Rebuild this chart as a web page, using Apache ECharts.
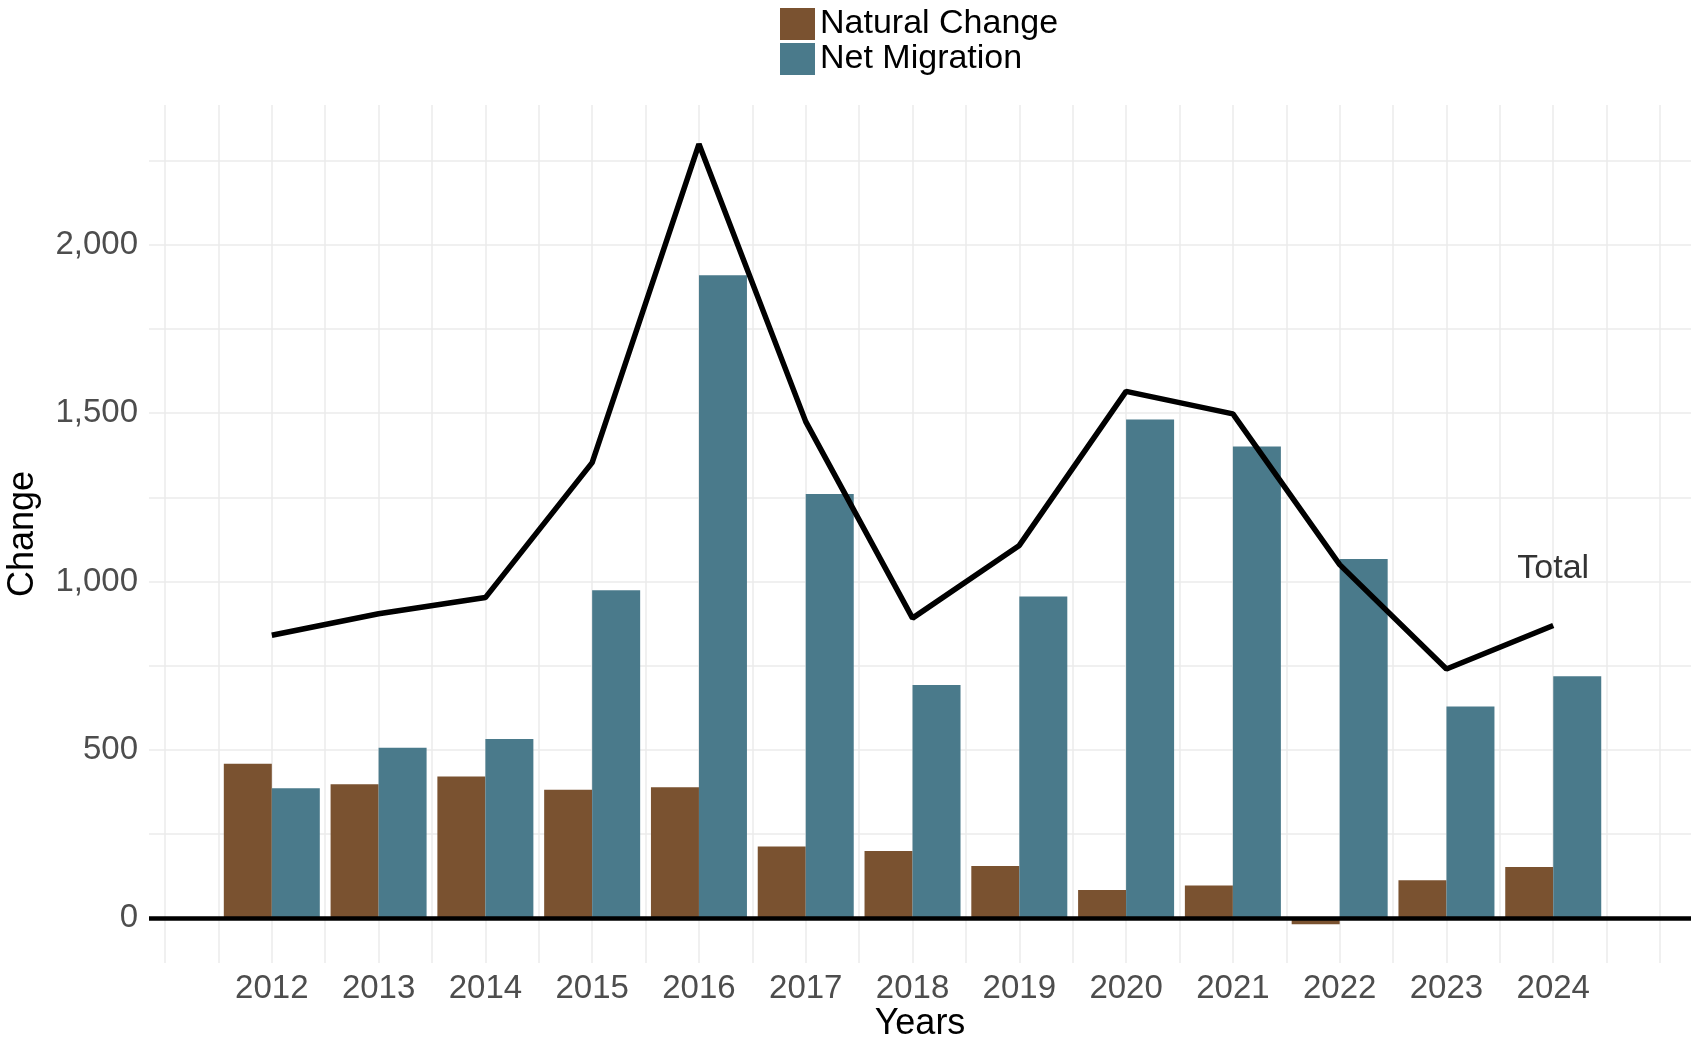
<!DOCTYPE html>
<html>
<head>
<meta charset="utf-8">
<script src="https://cdn.jsdelivr.net/npm/echarts@6/dist/echarts.min.js"></script>
<style>
  html, body { margin: 0; padding: 0; background: #fff; }
  #chart { width: 1691px; height: 1037px; }
</style>
</head>
<body>
<div id="chart"></div>
<script>
// values
const years = [2012, 2013, 2014, 2015, 2016, 2017, 2018, 2019, 2020, 2021, 2022, 2023, 2024];
const naturalChange = [458, 397, 420, 381, 388, 212, 199, 154, 83, 96, -19, 112, 151];
const netMigration = [385, 506, 532, 974, 1910, 1260, 692, 955, 1481, 1401, 1067, 628, 718];
const total = [840, 904, 952, 1353, 2300, 1475, 891, 1107, 1565, 1498, 1050, 740, 869];

// grid lines and tick labels
const xGridValues = [2011, 2011.5, 2012, 2012.5, 2013, 2013.5, 2014, 2014.5, 2015, 2015.5,
  2016, 2016.5, 2017, 2017.5, 2018, 2018.5, 2019, 2019.5, 2020, 2020.5, 2021, 2021.5,
  2022, 2022.5, 2023, 2023.5, 2024, 2024.5, 2025];
const yGridValues = [0, 250, 500, 750, 1000, 1250, 1500, 1750, 2000, 2250];
const yTickLabels = [0, 500, 1000, 1500, 2000];

const FONT = 'Liberation Sans';

const chart = echarts.init(document.getElementById('chart'));

const lastIdx = years.length - 1;

const option = {
  animation: false,
  textStyle: { fontFamily: FONT },
  legend: {
    orient: 'vertical',
    left: 775,
    top: 2,
    itemWidth: 35,
    itemHeight: 32,
    itemGap: 1,
    icon: 'rect',
    textStyle: { fontFamily: FONT, fontSize: 34, color: '#000' },
    data: ['Natural Change', 'Net Migration']
  },
  grid: { left: 149, right: 0, top: 105, bottom: 74, outerBoundsMode: 'none', containLabel: false },
  xAxis: {
    type: 'value',
    min: 2010.85,
    max: 2025.29,
    name: 'Years',
    nameLocation: 'middle',
    nameGap: 43,
    nameMoveOverlap: false,
    nameTextStyle: { fontFamily: FONT, fontSize: 36, color: '#000' },
    axisLine: { show: false },
    axisTick: { show: false, customValues: xGridValues },
    axisLabel: {
      customValues: years,
      margin: 9,
      fontFamily: FONT,
      fontSize: 33,
      color: '#4d4d4d',
      formatter: v => String(v)
    },
    splitLine: { show: true, lineStyle: { color: '#ebebeb', width: 1.5 } }
  },
  yAxis: {
    type: 'value',
    min: -134,
    max: 2416,
    name: 'Change',
    nameLocation: 'middle',
    nameGap: 108,
    nameMoveOverlap: false,
    nameTextStyle: { fontFamily: FONT, fontSize: 36, color: '#000' },
    axisLine: { show: false },
    axisTick: { show: false, customValues: yGridValues },
    axisLabel: {
      customValues: yTickLabels,
      margin: 11,
      fontFamily: FONT,
      fontSize: 33,
      color: '#4d4d4d',
      formatter: v => v.toLocaleString('en-US')
    },
    splitLine: { show: true, lineStyle: { color: '#ebebeb', width: 1.5 } }
  },
  series: [
    {
      name: 'Natural Change',
      type: 'bar',
      barWidth: 48,
      barGap: '0%',
      itemStyle: { color: '#7a5230' },
      data: years.map((y, i) => [y, naturalChange[i]]),
      markLine: {
        silent: true,
        symbol: 'none',
        label: { show: false },
        lineStyle: { color: '#000', width: 4.5, type: 'solid' },
        data: [{ yAxis: 0 }]
      }
    },
    {
      name: 'Net Migration',
      type: 'bar',
      barWidth: 48,
      barGap: '0%',
      itemStyle: { color: '#4a7a8b' },
      data: years.map((y, i) => [y, netMigration[i]])
    },
    {
      name: 'Total',
      type: 'line',
      symbol: 'none',
      lineStyle: { color: '#000', width: 5.5 },
      z: 5,
      data: years.map((y, i) => [y, total[i]])
    },
    {
      // text tag next to the end of the total line
      name: 'Total label',
      type: 'scatter',
      symbolSize: 0,
      silent: true,
      z: 6,
      label: {
        show: true,
        formatter: 'Total',
        position: 'top',
        distance: 40,
        fontFamily: FONT,
        fontSize: 34,
        color: '#000'
      },
      data: [[years[lastIdx], total[lastIdx]]]
    }
  ]
};

chart.setOption(option);
</script>
</body>
</html>
